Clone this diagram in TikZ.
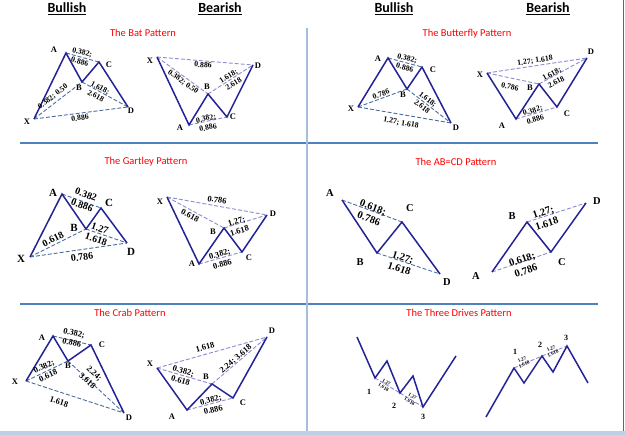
\documentclass[tikz,border=0pt]{standalone}
\usepackage{fontspec}
\setmainfont{Liberation Serif}
\newfontfamily\calfont{Carlito}
\definecolor{navyline}{RGB}{35,35,150}
\definecolor{dashbull}{RGB}{75,110,160}
\definecolor{dashbear}{RGB}{140,140,210}
\definecolor{gridh}{RGB}{79,129,189}
\definecolor{gridv}{RGB}{165,190,222}
\definecolor{bandc}{RGB}{190,208,232}
\begin{document}
\begin{tikzpicture}[x=1pt,y=-1pt,
  solidp/.style={draw=navyline, line width=1.5pt, line join=miter},
  dbull/.style={draw=dashbull, line width=0.9pt, dash pattern=on 4pt off 2pt},
  dbear/.style={draw=dashbear, line width=0.9pt, dash pattern=on 4pt off 2pt},
  lt/.style={font=\bfseries\fontsize{#1}{#1}\selectfont, inner sep=0pt},
  lt/.default=8.5,
  num/.style={font=\bfseries\fontsize{#1}{#1}\selectfont, inner sep=0pt, align=center},
  num/.default=7.8,
  ttl/.style={font=\calfont\fontsize{10.5}{10.5}\selectfont, text=red, inner sep=0pt},
  head/.style={font=\calfont\bfseries\fontsize{14}{14}\selectfont, inner sep=0pt},
  gridh/.style={draw=gridh, line width=1.2pt},
  gridv/.style={draw=gridv, line width=1.4pt}]
\useasboundingbox (0,0) rectangle (625,435);
\fill[white] (0,0) rectangle (625,435);

% ---------- grid ----------
\coordinate (h1a) at (20,143); \coordinate (h1b) at (598,143);
\coordinate (h2a) at (20,304); \coordinate (h2b) at (598,304);
\coordinate (v1a) at (307,28); \coordinate (v1b) at (307,431);
\coordinate (ra) at (623.5,0); \coordinate (rb) at (623.5,431);
\draw[gridh] (h1a) -- (h1b);
\draw[gridh] (h2a) -- (h2b);
\draw[gridv] (v1a) -- (v1b);
\draw[draw=gray!80!black, line width=1pt] (ra) -- (rb);
\fill[bandc] (0,431) rectangle (625,435);

% ---------- headers ----------
\node[head] (hd1) at (67,9) {\underline{Bullish}};
\node[head] (hd2) at (220,9) {\underline{Bearish}};
\node[head] (hd3) at (394,9) {\underline{Bullish}};
\node[head] (hd4) at (548,9) {\underline{Bearish}};

% ---------- titles ----------
\node[ttl] (t1) at (143,33) {The Bat Pattern};
\node[ttl] (t2) at (467,34) {The Butterfly Pattern};
\node[ttl] (t3) at (146,162) {The Gartley Pattern};
\node[ttl] (t4) at (456,162) {The AB=CD Pattern};
\node[ttl] (t5) at (130,313) {The Crab Pattern};
\node[ttl] (t6) at (459,313) {The Three Drives Pattern};

% ---------- Bat bullish ----------
\coordinate (aX) at (34,119); \coordinate (aA) at (66,53); \coordinate (aB) at (82,82);
\coordinate (aC) at (99,62); \coordinate (aD) at (128,107);
\draw[dbull] (aA) -- (aC); \draw[dbull] (aX) -- (aB); \draw[dbull] (aB) -- (aD); \draw[dbull] (aX) -- (aD);
\draw[solidp] (aX) -- (aA) -- (aB) -- (aC) -- (aD);
\node[lt] (aXl) at (27,122) {X}; \node[lt] (aAl) at (54,50) {A}; \node[lt] (aBl) at (79,88) {B};
\node[lt] (aCl) at (109,65) {C}; \node[lt] (aDl) at (131,111) {D};
\node[num, rotate=-15] (an1) at (81,57) {0.382;\\[1.5pt]0.886};
\node[num, rotate=38] (an2) at (53,97) {0.382; 0.50};
\node[num, rotate=-28.5] (an3) at (98,92) {1.618;\\[1.5pt]2.618};
\node[num, rotate=7] (an4) at (80,118) {0.886};

% ---------- Bat bearish ----------
\coordinate (bX) at (157,57); \coordinate (bA) at (189,125); \coordinate (bB) at (208,94);
\coordinate (bC) at (227,117); \coordinate (bD) at (253,65);
\draw[dbear] (bX) -- (bD); \draw[dbear] (bX) -- (bB); \draw[dbear] (bB) -- (bD); \draw[dbear] (bA) -- (bC);
\draw[solidp] (bX) -- (bA) -- (bB) -- (bC) -- (bD);
\node[lt] (bXl) at (150,61) {X}; \node[lt] (bAl) at (180,128) {A}; \node[lt] (bBl) at (207,87) {B};
\node[lt] (bCl) at (233,117) {C}; \node[lt] (bDl) at (258,66) {D};
\node[num, rotate=-5] (bn1) at (203,65) {0.886};
\node[num, rotate=-36] (bn2) at (183,82) {0.382; 0.50};
\node[num, rotate=33] (bn3) at (231,80) {1.618;\\[1.5pt]2.618};
\node[num, rotate=12] (bn4) at (207,123) {0.382;\\[1.5pt]0.886};

% ---------- Butterfly bullish ----------
\coordinate (cX) at (358,107); \coordinate (cA) at (388,58); \coordinate (cB) at (407,89);
\coordinate (cC) at (422,67); \coordinate (cD) at (451,123);
\draw[dbull] (cA) -- (cC); \draw[dbull] (cX) -- (cB); \draw[dbull] (cB) -- (cD); \draw[dbull] (cX) -- (cD);
\draw[solidp] (cX) -- (cA) -- (cB) -- (cC) -- (cD);
\node[lt] (cXl) at (351,109) {X}; \node[lt] (cAl) at (378,59) {A}; \node[lt] (cBl) at (403,95) {B};
\node[lt] (cCl) at (433,70) {C}; \node[lt] (cDl) at (456,128) {D};
\node[num, rotate=-15] (cn1) at (406,63) {0.382;\\[1.5pt]0.886};
\node[num, rotate=20] (cn2) at (381,94) {0.786};
\node[num, rotate=-38] (cn3) at (425,103) {1.618;\\[1.5pt]2.618};
\node[num, rotate=-10] (cn4) at (401,123) {1.27; 1.618};

% ---------- Butterfly bearish ----------
\coordinate (dX) at (487,73); \coordinate (dA) at (516,119); \coordinate (dB) at (539,84);
\coordinate (dC) at (557,107); \coordinate (dD) at (587,58);
\draw[dbear] (dX) -- (dD); \draw[dbear] (dX) -- (dB); \draw[dbear] (dB) -- (dD); \draw[dbear] (dA) -- (dC);
\draw[solidp] (dX) -- (dA) -- (dB) -- (dC) -- (dD);
\node[lt] (dXl) at (480,75) {X}; \node[lt] (dAl) at (502,126) {A}; \node[lt] (dBl) at (530,88) {B};
\node[lt] (dCl) at (567,114) {C}; \node[lt] (dDl) at (591,52) {D};
\node[num, rotate=8.5] (dn1) at (535,61) {1.27; 1.618};
\node[num, rotate=-12] (dn2) at (510,87) {0.786};
\node[num, rotate=28] (dn3) at (554,78) {1.618;\\[1.5pt]2.618};
\node[num, rotate=16] (dn4) at (534,115) {0.382;\\[1.5pt]0.886};

% ---------- Gartley bullish ----------
\coordinate (eX) at (30,257); \coordinate (eA) at (62,194); \coordinate (eB) at (86,229);
\coordinate (eC) at (101,208); \coordinate (eD) at (127,243);
\draw[dbull] (eA) -- (eC); \draw[dbull] (eX) -- (eB); \draw[dbull] (eB) -- (eD); \draw[dbull] (eX) -- (eD);
\draw[solidp] (eX) -- (eA) -- (eB) -- (eC) -- (eD);
\node[lt=11] (eXl) at (21,259) {X}; \node[lt=11] (eAl) at (53,193) {A}; \node[lt=11] (eBl) at (74,228) {B};
\node[lt=11] (eCl) at (109,203) {C}; \node[lt=11] (eDl) at (131,252) {D};
\node[num=10, rotate=-20] (en1) at (84,200) {0.382\\[1.5pt]0.886};
\node[num=10, rotate=27] (en2) at (53,239) {0.618};
\node[num=10, rotate=-19] (en3) at (98,234) {1.27\\[1.5pt]1.618};
\node[num=10, rotate=8] (en4) at (82,257) {0.786};

% ---------- Gartley bearish ----------
\coordinate (fX) at (167,197); \coordinate (fA) at (199,264); \coordinate (fB) at (224,228);
\coordinate (fC) at (242,252); \coordinate (fD) at (267,215);
\draw[dbear] (fX) -- (fD); \draw[dbear] (fX) -- (fB); \draw[dbear] (fB) -- (fD); \draw[dbear] (fA) -- (fC);
\draw[solidp] (fX) -- (fA) -- (fB) -- (fC) -- (fD);
\node[lt=8.5] (fXl) at (160,202) {X}; \node[lt=8.5] (fAl) at (192,264) {A}; \node[lt=8.5] (fBl) at (213,232) {B};
\node[lt=8.5] (fCl) at (249,258) {C}; \node[lt=8.5] (fDl) at (273,214) {D};
\node[num=8.5, rotate=-10] (fn1) at (217,200) {0.786};
\node[num=8.5, rotate=-28.5] (fn2) at (190,216) {0.618};
\node[num=8.5, rotate=17] (fn3) at (238,226) {1.27;\\[1.5pt]1.618};
\node[num=8.5, rotate=15.6] (fn4) at (221,259) {0.382;\\[1.5pt]0.886};

% ---------- AB=CD bullish ----------
\coordinate (gA) at (342,200); \coordinate (gB) at (377,253); \coordinate (gC) at (402,222); \coordinate (gD) at (440,274);
\draw[dbull] (gA) -- (gC); \draw[dbull] (gB) -- (gD);
\draw[solidp] (gA) -- (gB) -- (gC) -- (gD);
\node[lt=10.5] (gAl) at (330,193) {A}; \node[lt=10.5] (gBl) at (360,262) {B};
\node[lt=10.5] (gCl) at (410,208) {C}; \node[lt=10.5] (gDl) at (447,282) {D};
\node[num=10.5, rotate=-20] (gn1) at (371,213) {0.618;\\[1.5pt]0.786};
\node[num=10.5, rotate=-18.4] (gn2) at (401,263) {1.27;\\[1.5pt]1.618};

% ---------- AB=CD bearish ----------
\coordinate (hA) at (492,272); \coordinate (hB) at (527,222); \coordinate (hC) at (551,252); \coordinate (hD) at (586,203);
\draw[dbear] (hA) -- (hC); \draw[dbear] (hB) -- (hD);
\draw[solidp] (hA) -- (hB) -- (hC) -- (hD);
\node[lt=10.5] (hAl) at (476,276) {A}; \node[lt=10.5] (hBl) at (512,216) {B};
\node[lt=10.5] (hCl) at (562,262) {C}; \node[lt=10.5] (hDl) at (597,201) {D};
\node[num=10.5, rotate=18] (hn1) at (545,218) {1.27;\\[1.5pt]1.618};
\node[num=10.5, rotate=18.7] (hn2) at (524,265) {0.618;\\[1.5pt]0.786};

% ---------- Crab bullish ----------
\coordinate (iX) at (26,381); \coordinate (iA) at (53,336); \coordinate (iB) at (68,361);
\coordinate (iC) at (91,345); \coordinate (iD) at (124,413);
\draw[dbull] (iA) -- (iC); \draw[dbull] (iX) -- (iB); \draw[dbull] (iB) -- (iD); \draw[dbull] (iX) -- (iD);
\draw[solidp] (iX) -- (iA) -- (iB) -- (iC) -- (iD);
\node[lt=8.5] (iXl) at (15,382) {X}; \node[lt=8.5] (iAl) at (42,338) {A}; \node[lt=8.5] (iBl) at (68,366) {B};
\node[lt=8.5] (iCl) at (102,345) {C}; \node[lt=8.5] (iDl) at (129,418) {D};
\node[num=8.5, rotate=-13] (in1) at (73,338) {0.382;\\[1.5pt]0.886};
\node[num=8.5, rotate=25.5] (in2) at (46,371) {0.382;\\[1.5pt]0.618};
\node[num=8.5, rotate=-43] (in3) at (91,377) {2.24;\\[1.5pt]3.618};
\node[num=8.5, rotate=-18] (in4) at (59,402) {1.618};

% ---------- Crab bearish ----------
\coordinate (jX) at (157,368); \coordinate (jA) at (187,410); \coordinate (jB) at (212,384);
\coordinate (jC) at (233,398); \coordinate (jD) at (267,337);
\draw[dbear] (jX) -- (jD); \draw[dbear] (jX) -- (jB); \draw[dbear] (jB) -- (jD); \draw[dbear] (jA) -- (jC);
\draw[solidp] (jX) -- (jA) -- (jB) -- (jC) -- (jD);
\node[lt=8.5] (jXl) at (150,364) {X}; \node[lt=8.5] (jAl) at (172,417) {A}; \node[lt=8.5] (jBl) at (206,377) {B};
\node[lt=8.5] (jCl) at (243,403) {C}; \node[lt=8.5] (jDl) at (272,331) {D};
\node[num=8.5, rotate=15.7] (jn1) at (205,347) {1.618};
\node[num=8.5, rotate=-16] (jn2) at (182,376) {0.382;\\[1.5pt]0.618};
\node[num=8.5, rotate=40.5] (jn3) at (236,359) {2.24; 3.618};
\node[num=8.5, rotate=14.6] (jn4) at (212,405) {0.382;\\[1.5pt]0.886};

% ---------- Three drives bullish ----------
\coordinate (kS) at (357,337); \coordinate (k1) at (375,378); \coordinate (kq1) at (387,361);
\coordinate (k2) at (400,393); \coordinate (kq2) at (413,376); \coordinate (k3) at (423,407);
\coordinate (kE) at (456,356);
\draw[dbear] (k1) -- (k2); \draw[dbear] (k2) -- (k3);
\draw[solidp] (kS) -- (k1) -- (kq1) -- (k2) -- (kq2) -- (k3) -- (kE);
\node[lt=8] (k1l) at (369,392) {1}; \node[lt=8] (k2l) at (394,406) {2}; \node[lt=8] (k3l) at (423,417) {3};
\node[num=5, rotate=-31] (kn1) at (385,385) {1.27\\[0.5pt]1.618};
\node[num=5, rotate=-31] (kn2) at (411,399) {1.27\\[0.5pt]1.618};

% ---------- Three drives bearish ----------
\coordinate (mS) at (486,417); \coordinate (m1) at (514,368); \coordinate (mq1) at (524,383);
\coordinate (m2) at (542,356); \coordinate (mq2) at (553,372); \coordinate (m3) at (567,346);
\coordinate (mE) at (588,383);
\draw[dbear] (m1) -- (m2); \draw[dbear] (m2) -- (m3);
\draw[solidp] (mS) -- (m1) -- (mq1) -- (m2) -- (mq2) -- (m3) -- (mE);
\node[lt=8] (m1l) at (515,352) {1}; \node[lt=8] (m2l) at (540,345) {2}; \node[lt=8] (m3l) at (566,338) {3};
\node[num=5, rotate=23] (mn1) at (523,362) {1.27\\[0.5pt]1.618};
\node[num=5, rotate=22] (mn2) at (552,351) {1.27\\[0.5pt]1.618};
\end{tikzpicture}
\end{document}
